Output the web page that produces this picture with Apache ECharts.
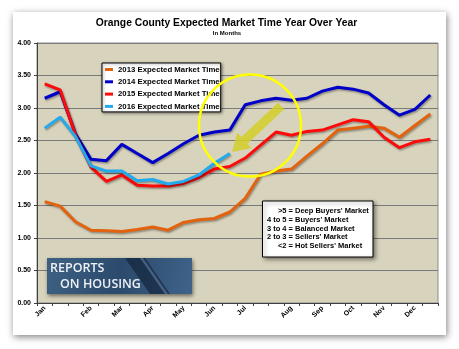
<!DOCTYPE html>
<html>
<head>
<meta charset="utf-8">
<script src="https://cdn.jsdelivr.net/npm/echarts@6/dist/echarts.min.js"></script>
<style>
html,body{margin:0;padding:0;background:#fff;width:459px;height:349px;overflow:hidden;}
#card{position:absolute;left:13px;top:12px;width:433px;height:323px;background:#fff;box-shadow:1px 2px 7px rgba(0,0,0,0.5);}
#chart{position:absolute;left:0;top:0;width:459px;height:349px;}
</style>
</head>
<body>
<div id="card"></div>
<div id="chart"></div>
<script>
var categories = ['Jan 1','Jan 15','Jan 29','Feb 12','Feb 26','Mar 12','Mar 26','Apr 9','Apr 23','May 7','May 21','Jun 4','Jun 18','Jul 2','Jul 16','Jul 30','Aug 13','Aug 27','Sep 10','Sep 24','Oct 8','Oct 22','Nov 5','Nov 19','Dec 3','Dec 17'];
var tickLabels = ['Jan','','','Feb','','Mar','','Apr','','May','','Jun','','Jul','','','Aug','','Sep','','Oct','','Nov','','Dec',''];
var s2013 = [1.56,1.49,1.25,1.12,1.11,1.10,1.13,1.17,1.12,1.24,1.28,1.30,1.40,1.61,1.98,2.03,2.06,2.26,2.45,2.66,2.69,2.72,2.69,2.55,2.73,2.91];
var s2014 = [3.15,3.25,2.60,2.21,2.19,2.44,2.30,2.16,2.30,2.45,2.58,2.63,2.66,3.05,3.11,3.15,3.12,3.15,3.26,3.32,3.29,3.23,3.05,2.89,2.98,3.20];
var s2015 = [3.37,3.28,2.58,2.09,1.87,1.97,1.81,1.80,1.80,1.84,1.93,2.06,2.10,2.23,2.43,2.63,2.58,2.64,2.66,2.74,2.82,2.79,2.55,2.39,2.48,2.52];
var s2016 = [2.69,2.86,2.56,2.11,2.03,2.03,1.88,1.90,1.83,1.87,1.97,2.15,2.30,null,null,null,null,null,null,null,null,null,null,null,null,null];
var seriesNames = ['2013 Expected Market Time','2014 Expected Market Time','2015 Expected Market Time','2016 Expected Market Time'];
var seriesColors = ['#E2620E','#0000C8','#FF0A0A','#22AAEE'];
var yTicks = [0,0.5,1,1.5,2,2.5,3,3.5,4];
var noteLeft = ['>5','4 to 5','3 to 4','2 to 3','<2'];
var noteRight = ["= Deep Buyers' Market","= Buyers' Market","= Balanced Market","= Sellers' Market","= Hot Sellers' Market"];

var FONT = '"Liberation Sans", Arial, sans-serif';
var chart = echarts.init(document.getElementById('chart'), null, {renderer:'canvas'});

function mkSeries(name, data, color){
  return {
    name:name, type:'line', data:data, symbol:'none', smooth:false, connectNulls:false,
    itemStyle:{color:color},
    lineStyle:{color:color, width:3, shadowColor:'rgba(0,0,0,0.35)', shadowBlur:2, shadowOffsetX:1, shadowOffsetY:1.5},
    z:3
  };
}

function arrowPts(tail, tip, sw, hw, hl){
  var dx = tip[0]-tail[0], dy = tip[1]-tail[1];
  var L = Math.sqrt(dx*dx+dy*dy);
  var ux = dx/L, uy = dy/L, nx = -uy, ny = ux;
  var bx = tip[0]-hl*ux, by = tip[1]-hl*uy;
  return [
    [tail[0]-nx*sw, tail[1]-ny*sw],
    [bx-nx*sw, by-ny*sw],
    [bx-nx*hw, by-ny*hw],
    tip,
    [bx+nx*hw, by+ny*hw],
    [bx+nx*sw, by+ny*sw],
    [tail[0]+nx*sw, tail[1]+ny*sw]
  ];
}

var graphics = [
  {type:'text', x:226.5, y:23.5, z:10, style:{text:'Orange County Expected Market Time Year Over Year', fill:'#000', font:'bold 10.3px '+FONT, align:'center', verticalAlign:'middle'}},
  {type:'text', x:227, y:33, z:10, style:{text:'In Months', fill:'#000', font:'bold 6px '+FONT, align:'center', verticalAlign:'middle'}},
  {type:'circle', z:50, zlevel:1, shape:{cx:250, cy:125.5, r:51}, style:{fill:null, stroke:'#FFFF00', lineWidth:2.5}},
  {type:'polygon', z:51, zlevel:1, shape:{points:arrowPts([281,106],[232,152],4.5,10.5,17)}, style:{fill:'rgba(212,206,40,0.85)', stroke:null}},
  {type:'rect', z:40, shape:{x:262.5, y:201, width:110.5, height:56}, style:{fill:'#fff', stroke:'#000', lineWidth:1, shadowBlur:4, shadowColor:'rgba(0,0,0,0.45)', shadowOffsetX:2, shadowOffsetY:2}},
  {type:'rect', z:40, shape:{x:47, y:258, width:145, height:36}, style:{
    fill:{type:'linear', x:0, y:0, x2:1, y2:1, colorStops:[{offset:0,color:'#3E6183'},{offset:0.5,color:'#2B4A6C'},{offset:1,color:'#40638A'}]},
    shadowBlur:4, shadowColor:'rgba(0,0,0,0.5)', shadowOffsetX:1, shadowOffsetY:2}},
  {type:'polygon', z:41, shape:{points:[[125,258],[145,258],[170,294],[150,294]]}, style:{fill:'rgba(15,28,50,0.6)'}},
  {type:'polygon', z:41, shape:{points:[[140,258],[143,258],[168,294],[165,294]]}, style:{fill:'rgba(120,150,190,0.45)'}},
  {type:'text', z:42, x:50, y:274.5, style:{text:'REPORTS', fill:'#EEF2F6', font:'600 12.5px "Open Sans", '+FONT, align:'left', verticalAlign:'bottom'}},
  {type:'text', z:42, x:60, y:290.5, style:{text:'ON HOUSING', fill:'#EEF2F6', font:'600 12.5px "Open Sans", '+FONT, align:'left', verticalAlign:'bottom'}}
];
var noteY = [210.7,219.7,228.5,237.4,246.2];
for (var i=0;i<noteLeft.length;i++){
  graphics.push({type:'text', z:45, x:286.5, y:noteY[i], style:{text:noteLeft[i], fill:'#000', font:'bold 7.5px '+FONT, align:'right', verticalAlign:'middle'}});
  graphics.push({type:'text', z:45, x:288.5, y:noteY[i], style:{text:noteRight[i], fill:'#000', font:'bold 7.5px '+FONT, align:'left', verticalAlign:'middle'}});
}

chart.setOption({
  animation:false,
  backgroundColor:'transparent',
  grid:{left:37, right:21, top:43, bottom:46, show:true, backgroundColor:'#D8D3BC', borderColor:'#8C8C8C', borderWidth:1},
  legend:{
    data:seriesNames, orient:'vertical', left:102, top:63, icon:'rect', itemWidth:8, itemHeight:3, itemGap:3.3,
    padding:[2,1,1,3], backgroundColor:'#fff', borderColor:'#000', borderWidth:1,
    shadowBlur:3, shadowColor:'rgba(0,0,0,0.4)', shadowOffsetX:1, shadowOffsetY:1,
    textStyle:{fontSize:7.8, fontWeight:'bold', color:'#000', fontFamily:FONT, lineHeight:9},
    z:30
  },
  xAxis:{
    type:'category', data:categories, boundaryGap:true,
    axisLine:{show:true, lineStyle:{color:'#404040', width:1}},
    axisTick:{show:true, interval:0, length:3, lineStyle:{color:'#404040'}},
    axisLabel:{interval:0, rotate:45, margin:4, fontSize:7, fontWeight:'bold', color:'#000', fontFamily:FONT,
      formatter:function(v, idx){ return tickLabels[idx]; }},
    splitLine:{show:false}
  },
  yAxis:{
    type:'value', min:yTicks[0], max:yTicks[yTicks.length-1], interval:0.5,
    axisLine:{show:true, lineStyle:{color:'#404040', width:1}},
    axisTick:{show:true, length:3, lineStyle:{color:'#404040'}},
    axisLabel:{margin:6, fontSize:7, fontWeight:'bold', color:'#000', fontFamily:FONT,
      formatter:function(v){ return v.toFixed(2); }},
    splitLine:{show:true, lineStyle:{color:'#7A7A7A', width:1}}
  },
  series:[
    mkSeries(seriesNames[0], s2013, seriesColors[0]),
    mkSeries(seriesNames[1], s2014, seriesColors[1]),
    mkSeries(seriesNames[2], s2015, seriesColors[2]),
    mkSeries(seriesNames[3], s2016, seriesColors[3])
  ],
  graphic:graphics
});
</script>
</body>
</html>
